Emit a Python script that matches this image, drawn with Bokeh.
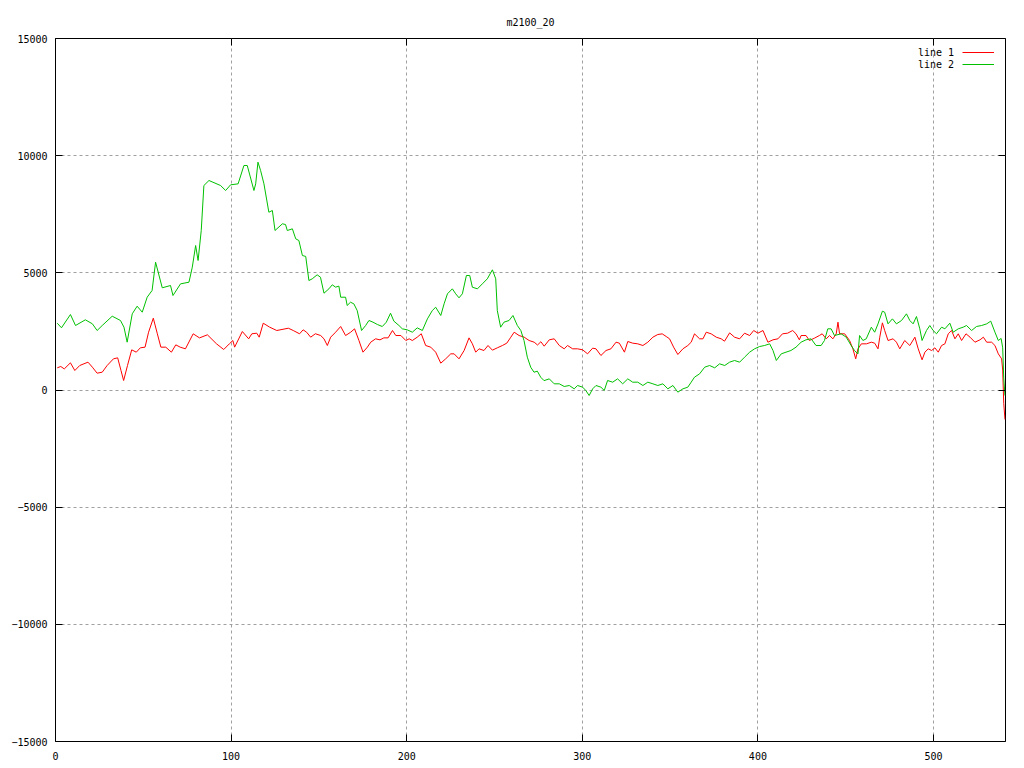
from bokeh.plotting import figure
from bokeh.models import (Range1d, FixedTicker, LinearAxis, CustomJSTickFormatter,
                          Legend, LegendItem, ColumnDataSource)
from bokeh.embed import file_html
from bokeh.resources import INLINE

TITLE = "m2100_20"
SERIES_NAMES = ["line 1", "line 2"]
X_TICKS = [0, 100, 200, 300, 400, 500]
Y_TICKS = [-15000, -10000, -5000, 0, 5000, 10000, 15000]
X_MAX = 541

line1_x = [1, 3, 5, 8.5, 11, 13.8, 18.5, 21, 23.7, 26.6, 29.4, 33, 35.4, 37.3, 38.8, 41, 43.4, 46, 48.3, 51,
           53, 55.7, 58, 60, 62.8, 66, 68.5, 71, 74, 78.4, 82, 86.5, 91.7, 95.8, 99, 101, 102, 106.4, 110, 111.8,
           114.6, 116, 118.3, 122, 126, 132.6, 135.4, 139, 141, 143, 145.3, 148, 151, 152.9, 154.8, 156.7, 159.5,
           162.4, 165.2, 168.1, 170.3, 172.8, 175.1, 177.6, 179.5, 182.3, 184.8, 187, 189.4, 191.9, 193.8, 196.7,
           199.5, 201.4, 203.2, 206, 208.3, 210.8, 213.7, 216.5, 219.4, 222.2, 225.1, 227, 229.8, 232.7, 235.5,
           237.4, 239.3, 241.2, 244, 246.3, 248.8, 251.6, 254.5, 257, 259.3, 261.2, 264, 266.9, 269.7, 272.6,
           274.5, 276.4, 278.3, 281.2, 284, 286.9, 289.7, 291.6, 294.5, 297.3, 300.2, 303, 305.9, 307.8, 310.6,
           313.5, 316.3, 319.2, 321.1, 324, 325.9, 328.7, 331.6, 334.5, 337.3, 340.2, 343, 345.5, 347.8, 349.7,
           352, 354.4, 357.3, 360.1, 362, 363.9, 366.8, 368.7, 370.6, 373.4, 376.3, 379.1, 381, 383.9, 386.7,
           389.6, 392.4, 395.3, 397.6, 400, 402.9, 405.7, 408.6, 411.4, 414, 416.9, 419.8, 421.7, 423.6, 424.6,
           427.4, 429.3, 432.2, 435, 436.6, 438.9, 440.8, 442.7, 444.6, 445.6, 446.5, 449.4, 452.2, 454.1, 455.7,
           457, 458.9, 461.8, 464.6, 466.5, 468.4, 469.4, 470.9, 472.2, 474.1, 477, 478.9, 480.8, 483.6, 486.5,
           489.4, 491.3, 493.5, 495.1, 497, 498.9, 500.8, 502.7, 504.6, 506.5, 508.4, 510.3, 512.2, 514.1, 516,
           518.5, 520.8, 523.6, 526.5, 528.4, 530.3, 533.1, 535, 536.9, 538.8, 539.4, 540, 540.7]
line1_y = [947, 1003, 900, 1160, 832, 1045, 1188, 974, 718, 760, 1045, 1330, 1373, 832, 405, 1045, 1714, 1614, 1800, 1828,
           2466, 3064, 2398, 1828, 1828, 1614, 1927, 1828, 1757, 2398, 2224, 2355, 1970, 1728, 1970, 2112, 1828, 2496, 2184, 2398,
           2425, 2254, 2850, 2680, 2539, 2637, 2539, 2398, 2568, 2466, 2254, 2400, 2325, 2184, 1899, 2254, 2466,
           2710, 2325, 2466, 2611, 2112, 1614, 1828, 2040, 2184, 2140, 2225, 2225, 2539, 2325, 2325,
           2112, 2184, 2112, 2254, 2400, 1899, 1828, 1614, 1145, 1330, 1543, 1543, 1330, 1685, 2225,
           1970, 1614, 1757, 1685, 1899, 1700, 1800, 1899, 1999, 2254, 2466, 2325, 2254, 2112, 2040,
           1920, 2060, 1870, 2142, 2184, 1899, 1757, 1899, 1757, 1757, 1714, 1543, 1785, 1757, 1472,
           1685, 1757, 2040, 1999, 1614, 2070, 1999, 1970, 1899, 2040, 2254, 2368, 2396, 2282, 2184,
           1828, 1515, 1757, 1899, 2040, 2396, 2184, 2184, 2466, 2396, 2254, 2184, 2083, 2438, 2254,
           2184, 2424, 2325, 2539, 2424, 2539, 2040, 2142, 2184, 2398, 2425, 2539, 2398, 2142, 2325,
           2325, 2112, 2212, 2325, 2398, 2184, 2325, 2184, 2398, 2894, 2398, 2398, 2112, 1757, 1330,
           1757, 1970, 1970, 2040, 1999, 1757, 2254, 2866, 2539, 2112, 2184, 2040, 1757, 2112, 1899,
           2254, 1757, 1288, 1614, 1757, 1685, 1800, 1614, 1899, 1970, 2398, 2539, 2184, 2398, 2112,
           2398, 2254, 2040, 2142, 2254, 2040, 2040, 1899, 1543, 1330, 850, -570, -1260]

line2_x = [1, 3.4, 8.5, 11.4, 17, 21, 23.7, 26.6, 32.3, 37, 39, 40.8, 43.7, 46.5, 49.4, 52.2, 55, 57, 60.8, 65.5,
           66.9, 71.2, 76, 77.9, 79.8, 81.2, 83, 84.5, 87.4, 94, 96.9, 99.7, 104, 107.3, 109.2, 113, 114, 115.3,
           116.8, 118.7, 121.5, 123.5, 125, 129.2, 131, 132, 134.9, 136.8, 138.6, 140.6, 142.5, 144.3, 146.2, 149,
           150.9, 152.9, 155.7, 157.6, 159.5, 161.4, 162.4, 165.2, 166.1, 168, 169.9, 171.8, 174.3, 176.6, 178.5,
           180.8, 183.3, 186.1, 188.4, 190.8, 192.7, 195.6, 197.5, 200.3, 203.2, 206, 208.9, 211.8, 214.6, 216.5,
           219.4, 221.3, 223.2, 226, 227.9, 229.8, 231.7, 234, 235.9, 237.4, 240.3, 243.1, 245.9, 248.8, 250.7,
           251.6, 253.5, 255.4, 258.3, 260.5, 263, 265, 266.8, 268.7, 270.6, 272.5, 274.4, 276.3, 278.2, 281.2,
           284, 286.9, 289.7, 292.6, 295.4, 297.3, 300.2, 302, 303.9, 305.9, 307.8, 310.6, 312.5, 314.4, 317.3,
           320.1, 323, 325.9, 328.7, 331.6, 334.5, 337.3, 340.2, 343, 345.9, 348.7, 351.6, 354.4, 357.3, 360.1,
           362, 363.9, 366.8, 369.7, 372.5, 375.4, 378.2, 381.1, 383.9, 386.7, 389.6, 392.4, 395.3, 398.1, 401,
           403.8, 406.7, 408.6, 410.5, 413.3, 416, 418.8, 421.7, 424.6, 427.4, 430.3, 433.1, 436, 437.9, 439.8,
           441.7, 443.6, 447.4, 450.3, 453.1, 455, 457, 457.9, 459.8, 461.7, 464.6, 466.5, 468.4, 470.9, 472.2,
           474.1, 476.6, 478.9, 481.8, 484.6, 486.5, 488.4, 490.3, 492.2, 493.5, 496, 497.9, 499.8, 501.7, 504.6,
           506.5, 509.3, 511.2, 514.1, 516.9, 518.8, 521.7, 524.5, 527.4, 530.3, 532.6, 535, 536.9, 538.5, 539.4,
           540, 540.7]
line2_y = [2850, 2654, 3221, 2752, 2995, 2825, 2539, 2752, 3149, 2966, 2680, 2040, 3251, 3576, 3320, 3960, 4246, 5453, 4361, 4459,
           4032, 4530, 4600, 5240, 6166, 5526, 6806, 8726, 8940, 8726, 8513, 8755, 8798, 9580, 9580, 8513, 8798, 9722,
           9366, 8798, 7587, 7660, 6806, 7092, 7062, 6806, 6878, 6451, 6379, 5739, 5700, 4672, 4744, 4915,
           4813, 4131, 4318, 4489, 4389, 4432, 3960, 3960, 3606, 3746, 3676, 3392, 2539, 2752, 2966,
           2895, 2795, 2710, 2895, 3277, 2938, 2752, 2611, 2568, 2466, 2653, 2539, 3037, 3392, 3533,
           3179, 3678, 4105, 4318, 4105, 3934, 4105, 4886, 4886, 4386, 4318, 4531, 4744, 5129, 4744,
           3392, 2680, 2895, 2966, 3179, 2752, 2539, 2112, 1400, 974, 760, 803, 547, 400, 476,
           264, 264, 150, 192, 50, 192, 121, -21, -235, 50, 192, 121, -21, 405, 334,
           476, 264, 476, 334, 334, 192, 334, 264, 192, 264, 50, 192, -92, 50, 121,
           334, 547, 690, 974, 1045, 946, 1117, 1045, 1188, 1259, 1188, 1400, 1614, 1757, 1856,
           1899, 1970, 1685, 1259, 1543, 1614, 1685, 1828, 2040, 2142, 2184, 1899, 1899, 2112, 2611,
           2611, 2325, 2398, 2254, 1899, 1685, 1543, 2325, 2112, 2184, 2680, 2466, 2823, 3364, 3321,
           2823, 3037, 2823, 2966, 3250, 2966, 2823, 3136, 2611, 2112, 2539, 2752, 2539, 2398, 2680,
           2611, 2852, 2466, 2611, 2680, 2752, 2539, 2710, 2752, 2823, 2938, 2466, 2112, 2200, 1800,
           500, -235]

FONT = "DejaVu Sans Mono"
FS = "10px"

p = figure(width=1024, height=768, output_backend="svg", toolbar_location=None,
           x_range=Range1d(0, X_MAX), y_range=Range1d(-15000, 15000),
           min_border_left=55, min_border_right=19, min_border_top=38, min_border_bottom=27,
           title=TITLE)
p.title.align = "center"
p.title.text_font = FONT
p.title.text_font_size = FS
p.title.text_font_style = "normal"
p.title.text_color = "black"
p.title.standoff = 21

p.outline_line_color = "black"
p.outline_line_width = 1
p.background_fill_color = "white"
p.border_fill_color = "white"

for ax in (p.xaxis[0], p.yaxis[0]):
    ax.axis_line_color = None
    ax.major_tick_in = 7
    ax.major_tick_out = 0
    ax.minor_tick_line_color = None
    ax.major_tick_line_color = "black"
    ax.major_label_text_font = FONT
    ax.major_label_text_font_size = FS
    ax.major_label_text_color = "black"
p.xaxis[0].ticker = FixedTicker(ticks=X_TICKS)
p.yaxis[0].ticker = FixedTicker(ticks=Y_TICKS)
p.xaxis[0].major_label_standoff = 10
p.yaxis[0].major_label_standoff = 8

blank = CustomJSTickFormatter(code="return ''")
ax_r = LinearAxis(ticker=FixedTicker(ticks=Y_TICKS), formatter=blank, axis_line_color=None,
                  major_tick_in=7, major_tick_out=0, minor_tick_line_color=None, major_label_standoff=0)
ax_t = LinearAxis(ticker=FixedTicker(ticks=X_TICKS), formatter=blank, axis_line_color=None,
                  major_tick_in=7, major_tick_out=0, minor_tick_line_color=None, major_label_standoff=0)
p.add_layout(ax_r, "right")
p.add_layout(ax_t, "above")

p.xgrid.ticker = FixedTicker(ticks=X_TICKS)
p.ygrid.ticker = FixedTicker(ticks=Y_TICKS)
for g in (p.xgrid[0], p.ygrid[0]):
    g.grid_line_color = "#a0a0a0"
    g.grid_line_dash = "3 3"
    g.grid_line_width = 1

s1 = ColumnDataSource(dict(x=line1_x, y=line1_y))
s2 = ColumnDataSource(dict(x=line2_x, y=line2_y))
r1 = p.line("x", "y", source=s1, line_color="#ff0000", line_width=1)
r2 = p.line("x", "y", source=s2, line_color="#00c000", line_width=1)

common = dict(orientation="vertical", glyph_height=12, label_height=12, spacing=0,
              padding=0, margin=0, label_text_font=FONT, label_text_font_size=FS,
              label_text_color="black", border_line_color=None, background_fill_alpha=0)

# labels (text only, to the left of the samples, as gnuplot draws them)
legend_text = Legend(items=[LegendItem(label=SERIES_NAMES[0], renderers=[]),
                            LegendItem(label=SERIES_NAMES[1], renderers=[])],
                     location=(863, 671), glyph_width=0, label_standoff=0, **common)
# line samples
legend_glyph = Legend(items=[LegendItem(label=" ", renderers=[r1]),
                             LegendItem(label=" ", renderers=[r2])],
                      location=(907, 671), glyph_width=32, label_standoff=0, **common)
p.add_layout(legend_text)
p.add_layout(legend_glyph)

open("out.html", "w").write(file_html(p, INLINE))
